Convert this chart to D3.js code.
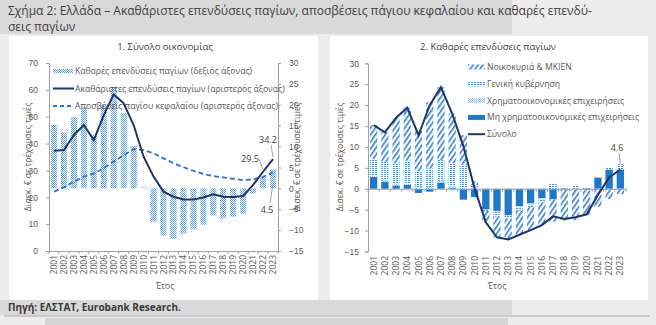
<!DOCTYPE html>
<html><head><meta charset="utf-8">
<script src="https://cdn.jsdelivr.net/npm/d3@7"></script>
<style>body{margin:0;background:#ececec}svg{display:block;font-family:"Open Sans",sans-serif}</style>
</head><body><svg id="c" width="656" height="325"></svg>
<script>
// ---------- DATA ----------
const years = ["2001","2002","2003","2004","2005","2006","2007","2008","2009","2010","2011","2012","2013","2014","2015","2016","2017","2018","2019","2020","2021","2022","2023"];
// Chart 1 (bn €)
const netInvestment   = [15.2,13.4,17.0,19.4,12.8,20.0,24.3,18.0,10.2,0.2,-8.0,-11.3,-12.1,-10.9,-9.8,-8.7,-6.5,-7.2,-6.8,-6.1,-1.2,2.6,4.5];
const grossInvestment = [37.3,37.6,43.2,46.9,41.3,50.6,58.3,55.0,46.9,35.1,27.7,22.1,20.2,19.2,19.2,19.9,21.1,20.2,20.1,20.5,24.6,29.5,34.2];
const depreciation    = [22.1,23.7,25.8,27.7,28.9,30.8,33.3,35.7,37.9,37.6,36.4,34.5,32.7,31.2,29.8,28.7,27.9,27.4,26.9,26.4,26.7,27.6,29.3];
const leftTicks1  = [0,10,20,30,40,50,60,70];
const rightTicks1 = [-15,-10,-5,0,5,10,15,20,25,30];
// Chart 2 (bn €), sectors
const households   = [8.1,7.0,10.9,12.7,9.5,15.8,17.4,11.9,7.0,0.9,-2.7,-4.9,-5.0,-5.7,-5.5,-5.4,-5.4,-7.3,-7.3,-5.9,-4.3,-2.5,-1.3];
const government   = [4.0,4.5,5.0,5.5,4.0,4.5,5.0,5.5,5.5,0.8,-0.3,-1.2,-0.6,-0.8,-0.6,-0.7,1.3,0.4,0.7,0.2,0.0,0.5,1.2];
const financial    = [0.3,0.3,0.3,0.3,0.3,0.4,0.4,0.4,0.3,0.1,0.0,-0.2,-0.2,-0.3,-0.3,-0.3,0.0,-0.1,-0.1,-0.1,0.1,0.1,0.2];
const nonFinancial = [2.8,1.7,0.8,0.9,-1.0,-0.7,1.5,0.2,-2.6,-2.0,-5.0,-5.3,-6.3,-4.2,-3.5,-2.3,-2.5,-0.2,-0.1,-0.3,2.7,4.6,4.5];
const total        = [15.2,13.5,17.0,19.4,12.8,20.0,24.3,18.0,10.2,0.1,-8.0,-11.6,-12.1,-11.0,-9.9,-8.7,-6.6,-7.2,-6.8,-6.1,-1.5,2.7,4.6];
const ticks2 = [-15,-10,-5,0,5,10,15,20,25,30];

const title1 = "Σχήμα 2: Ελλάδα – Ακαθάριστες επενδύσεις παγίων, αποσβέσεις πάγιου κεφαλαίου και καθαρές επενδύ-";
const title2 = "σεις παγίων";
const yLabel = "Δισεκ. € σε τρέχουσες τιμές";

// ---------- SETUP ----------
const svg = d3.select("#c");
const defs = svg.append("defs");
function checker(id, col){
  const p = defs.append("pattern").attr("id",id).attr("patternUnits","userSpaceOnUse").attr("width",2).attr("height",2);
  p.append("rect").attr("width",2).attr("height",2).attr("fill","#fff");
  p.append("rect").attr("width",1).attr("height",1).attr("fill",col);
  p.append("rect").attr("x",1).attr("y",1).attr("width",1).attr("height",1).attr("fill",col);
}
checker("pNet","#5aa2e2");
checker("pFin","#8cc0ea");
{
  const p = defs.append("pattern").attr("id","pGov").attr("patternUnits","userSpaceOnUse").attr("width",3).attr("height",2);
  p.append("rect").attr("width",3).attr("height",2).attr("fill","#fff");
  p.append("rect").attr("width",2).attr("height",1).attr("fill","#4a95d9");
}
{
  const p = defs.append("pattern").attr("id","pHH").attr("patternUnits","userSpaceOnUse").attr("width",4).attr("height",4).attr("patternTransform","rotate(35)");
  p.append("rect").attr("width",4).attr("height",4).attr("fill","#fff");
  p.append("rect").attr("width",1.6).attr("height",4).attr("fill","#2f7fcf");
}

// background
svg.append("rect").attr("x",0).attr("y",0).attr("width",512).attr("height",34).attr("fill","#d9d9d9");
svg.append("rect").attr("x",0).attr("y",300).attr("width",512).attr("height",15).attr("fill","#d9d9d9");
svg.append("rect").attr("x",45).attr("y",318).attr("width",463).attr("height",7).attr("fill","#d4d4d4");
svg.append("rect").attr("x",9).attr("y",36).attr("width",309).attr("height",264).attr("fill","#fff");
svg.append("rect").attr("x",330).attr("y",36).attr("width",318).attr("height",264).attr("fill","#fff");
svg.append("line").attr("x1",4).attr("x2",650).attr("y1",316).attr("y2",316).attr("stroke","#a6a6a6").attr("stroke-width",1);

svg.append("text").attr("x",8).attr("y",15).attr("font-size",12).attr("fill","#404040").text(title1);
svg.append("text").attr("x",8).attr("y",31).attr("font-size",12).attr("fill","#404040").text(title2);
svg.append("text").attr("x",8).attr("y",311).attr("font-size",10).attr("font-weight","bold").attr("fill","#3a3a3a").text("Πηγή: ΕΛΣΤΑΤ, Eurobank Research.");

const tickCol = "#595959", axCol = "#a0a0a0";
function styleAxis(g){
  g.select(".domain").attr("stroke",axCol);
  g.selectAll(".tick line").attr("stroke",axCol);
  g.selectAll(".tick text").attr("fill",tickCol).attr("font-size",8.5);
}

// ---------- CHART 1 ----------
const x1 = d3.scaleBand().domain(years).range([49,278]).paddingInner(0.38).paddingOuter(0.19);
const yL = d3.scaleLinear().domain([0,70]).range([251,63]);
const yR = d3.scaleLinear().domain([-15,30]).range([251,63]);

svg.append("text").attr("x",165).attr("y",50).attr("text-anchor","middle").attr("font-size",9.5).attr("fill","#404040").text("1. Σύνολο οικονομίας");

svg.append("g").selectAll("rect").data(netInvestment).join("rect")
  .attr("x",(d,i)=>x1(years[i])).attr("width",x1.bandwidth())
  .attr("y",d=>yR(Math.max(0,d))).attr("height",d=>Math.abs(yR(d)-yR(0)))
  .attr("fill","url(#pNet)");

svg.append("g").attr("transform","translate(49,0)").call(d3.axisLeft(yL).tickValues(leftTicks1).tickSize(3).tickPadding(8)).call(styleAxis);
svg.append("g").attr("transform","translate(278,0)").call(d3.axisRight(yR).tickValues(rightTicks1).tickSize(3).tickPadding(8)).call(styleAxis);
svg.append("g").attr("transform","translate(0,251)").call(d3.axisBottom(x1).tickSize(0).tickFormat(()=>"")).call(styleAxis);
svg.append("g").selectAll("line").data(years.concat(["end"])).join("line")
  .attr("x1",(d,i)=>i<years.length? x1(d)-x1.step()*x1.paddingInner()/2 : 278)
  .attr("x2",(d,i)=>i<years.length? x1(d)-x1.step()*x1.paddingInner()/2 : 278)
  .attr("y1",251).attr("y2",254).attr("stroke",axCol);
svg.append("g").selectAll("text").data(years).join("text")
  .attr("transform",d=>`translate(${x1(d)+x1.bandwidth()/2+3},255) rotate(-90)`)
  .attr("text-anchor","end").attr("font-size",8.5).attr("fill",tickCol).text(d=>d);

const line1 = d3.line().x((d,i)=>x1(years[i])+x1.bandwidth()/2).y(d=>yL(d));
svg.append("path").datum(depreciation).attr("d",line1).attr("fill","none").attr("stroke","#2e75c6").attr("stroke-width",1.8).attr("stroke-dasharray","5,3");
svg.append("path").datum(grossInvestment).attr("d",line1).attr("fill","none").attr("stroke","#1f3468").attr("stroke-width",2);

svg.append("text").attr("transform","translate(31,157) rotate(-90)").attr("text-anchor","middle").attr("font-size",8.5).attr("fill",tickCol).text(yLabel);
svg.append("text").attr("transform","translate(300,157) rotate(-90)").attr("text-anchor","middle").attr("font-size",8.5).attr("fill",tickCol).text(yLabel);
svg.append("text").attr("x",165).attr("y",289).attr("text-anchor","middle").attr("font-size",8.5).attr("fill",tickCol).text("Έτος");

// legend chart 1
const leg1 = [
  {t:"Καθαρές επενδύσεις παγίων (δεξιός άξονας)", k:"bar"},
  {t:"Ακαθάριστες επενδύσεις παγίων (αριστερός άξονας)", k:"line"},
  {t:"Αποσβέσεις παγίου κεφαλαίου (αριστερός άξονας)", k:"dash"}];
leg1.forEach((d,i)=>{
  const y = 71 + i*17.5;
  if(d.k==="bar") svg.append("rect").attr("x",53).attr("y",y-2).attr("width",20).attr("height",4).attr("fill","url(#pNet)");
  else svg.append("line").attr("x1",53).attr("x2",74).attr("y1",y).attr("y2",y)
        .attr("stroke",d.k==="line"?"#1f3468":"#2e75c6").attr("stroke-width",2).attr("stroke-dasharray",d.k==="dash"?"4,3":null);
  svg.append("text").attr("x",75).attr("y",y+3).attr("font-size",8.6).attr("fill","#555").text(d.t);
});

// annotations chart 1
const xc1 = i=>x1(years[i])+x1.bandwidth()/2;
svg.append("text").attr("x",268).attr("y",143).attr("text-anchor","middle").attr("font-size",9).attr("fill","#404040").text(grossInvestment[22].toFixed(1));
svg.append("line").attr("x1",271).attr("y1",145).attr("x2",xc1(22)).attr("y2",yL(grossInvestment[22])-2).attr("stroke","#a0a0a0");
svg.append("text").attr("x",250).attr("y",162).attr("text-anchor","middle").attr("font-size",9).attr("fill","#404040").text(grossInvestment[21].toFixed(1));
svg.append("line").attr("x1",259).attr("y1",159).attr("x2",xc1(21)).attr("y2",yL(grossInvestment[21])-2).attr("stroke","#a0a0a0");
svg.append("text").attr("x",267).attr("y",213).attr("text-anchor","middle").attr("font-size",9).attr("fill","#404040").text(netInvestment[22].toFixed(1));
svg.append("line").attr("x1",270).attr("y1",203).attr("x2",xc1(22)).attr("y2",yR(netInvestment[22])+14).attr("stroke","#a0a0a0");

// ---------- CHART 2 ----------
const x2 = d3.scaleBand().domain(years).range([368,626]).paddingInner(0.35).paddingOuter(0.18);
const y2 = d3.scaleLinear().domain([-15,30]).range([251.5,63.3]);
svg.append("text").attr("x",488).attr("y",50).attr("text-anchor","middle").attr("font-size",9.5).attr("fill","#404040").text("2. Καθαρές επενδύσεις παγίων");

const keys = ["nonFinancial","financial","government","households"];
const fills = {nonFinancial:"#1f78c8", financial:"url(#pFin)", government:"url(#pGov)", households:"url(#pHH)"};
const rows = years.map((y,i)=>({year:y, nonFinancial:nonFinancial[i], financial:financial[i], government:government[i], households:households[i]}));
const stacked = d3.stack().keys(keys).offset(d3.stackOffsetDiverging)(rows);
svg.append("g").selectAll("g").data(stacked).join("g").attr("fill",s=>fills[s.key])
  .selectAll("rect").data(s=>s).join("rect")
  .attr("x",d=>x2(d.data.year)).attr("width",x2.bandwidth())
  .attr("y",d=>y2(Math.max(d[0],d[1]))).attr("height",d=>Math.abs(y2(d[0])-y2(d[1])));

svg.append("g").attr("transform","translate(368,0)").call(d3.axisLeft(y2).tickValues(ticks2).tickSize(3).tickPadding(6)).call(styleAxis);
svg.append("g").attr("transform",`translate(0,${y2(0)})`).call(d3.axisBottom(x2).tickSize(0).tickFormat(()=>"")).call(styleAxis);
svg.append("g").selectAll("line").data(years.concat(["end"])).join("line")
  .attr("x1",(d,i)=>i<years.length? x2(d)-x2.step()*x2.paddingInner()/2 : 626)
  .attr("x2",(d,i)=>i<years.length? x2(d)-x2.step()*x2.paddingInner()/2 : 626)
  .attr("y1",y2(0)).attr("y2",y2(0)+3).attr("stroke",axCol);
svg.append("g").selectAll("text").data(years).join("text")
  .attr("transform",d=>`translate(${x2(d)+x2.bandwidth()/2+3},256) rotate(-90)`)
  .attr("text-anchor","end").attr("font-size",8.5).attr("fill",tickCol).text(d=>d);

const line2 = d3.line().x((d,i)=>x2(years[i])+x2.bandwidth()/2).y(d=>y2(d));
svg.append("path").datum(total).attr("d",line2).attr("fill","none").attr("stroke","#1f3468").attr("stroke-width",2);

svg.append("text").attr("transform","translate(343,157) rotate(-90)").attr("text-anchor","middle").attr("font-size",8.5).attr("fill",tickCol).text(yLabel);
svg.append("text").attr("x",497).attr("y",289).attr("text-anchor","middle").attr("font-size",8.5).attr("fill",tickCol).text("Έτος");

const leg2 = [
  {t:"Νοικοκυριά & ΜΚΙΕΝ", f:"url(#pHH)"},
  {t:"Γενική κυβέρνηση", f:"url(#pGov)"},
  {t:"Χρηματοοικονομικές επιχειρήσεις", f:"url(#pFin)"},
  {t:"Μη χρηματοοικονομικές επιχειρήσεις", f:"#1f78c8"},
  {t:"Σύνολο", f:null}];
leg2.forEach((d,i)=>{
  const y = 67 + i*16.8;
  if(d.f) svg.append("rect").attr("x",468).attr("y",y-2.5).attr("width",17).attr("height",5).attr("fill",d.f);
  else svg.append("line").attr("x1",468).attr("x2",485).attr("y1",y).attr("y2",y).attr("stroke","#1f3468").attr("stroke-width",2);
  svg.append("text").attr("x",487).attr("y",y+3).attr("font-size",8.6).attr("fill","#555").text(d.t);
});

const xc2 = i=>x2(years[i])+x2.bandwidth()/2;
svg.append("text").attr("x",617).attr("y",151).attr("text-anchor","middle").attr("font-size",9).attr("fill","#404040").text(total[22].toFixed(1));
svg.append("line").attr("x1",619).attr("y1",153).attr("x2",xc2(22)).attr("y2",y2(6)).attr("stroke","#a0a0a0");
</script></body></html>
